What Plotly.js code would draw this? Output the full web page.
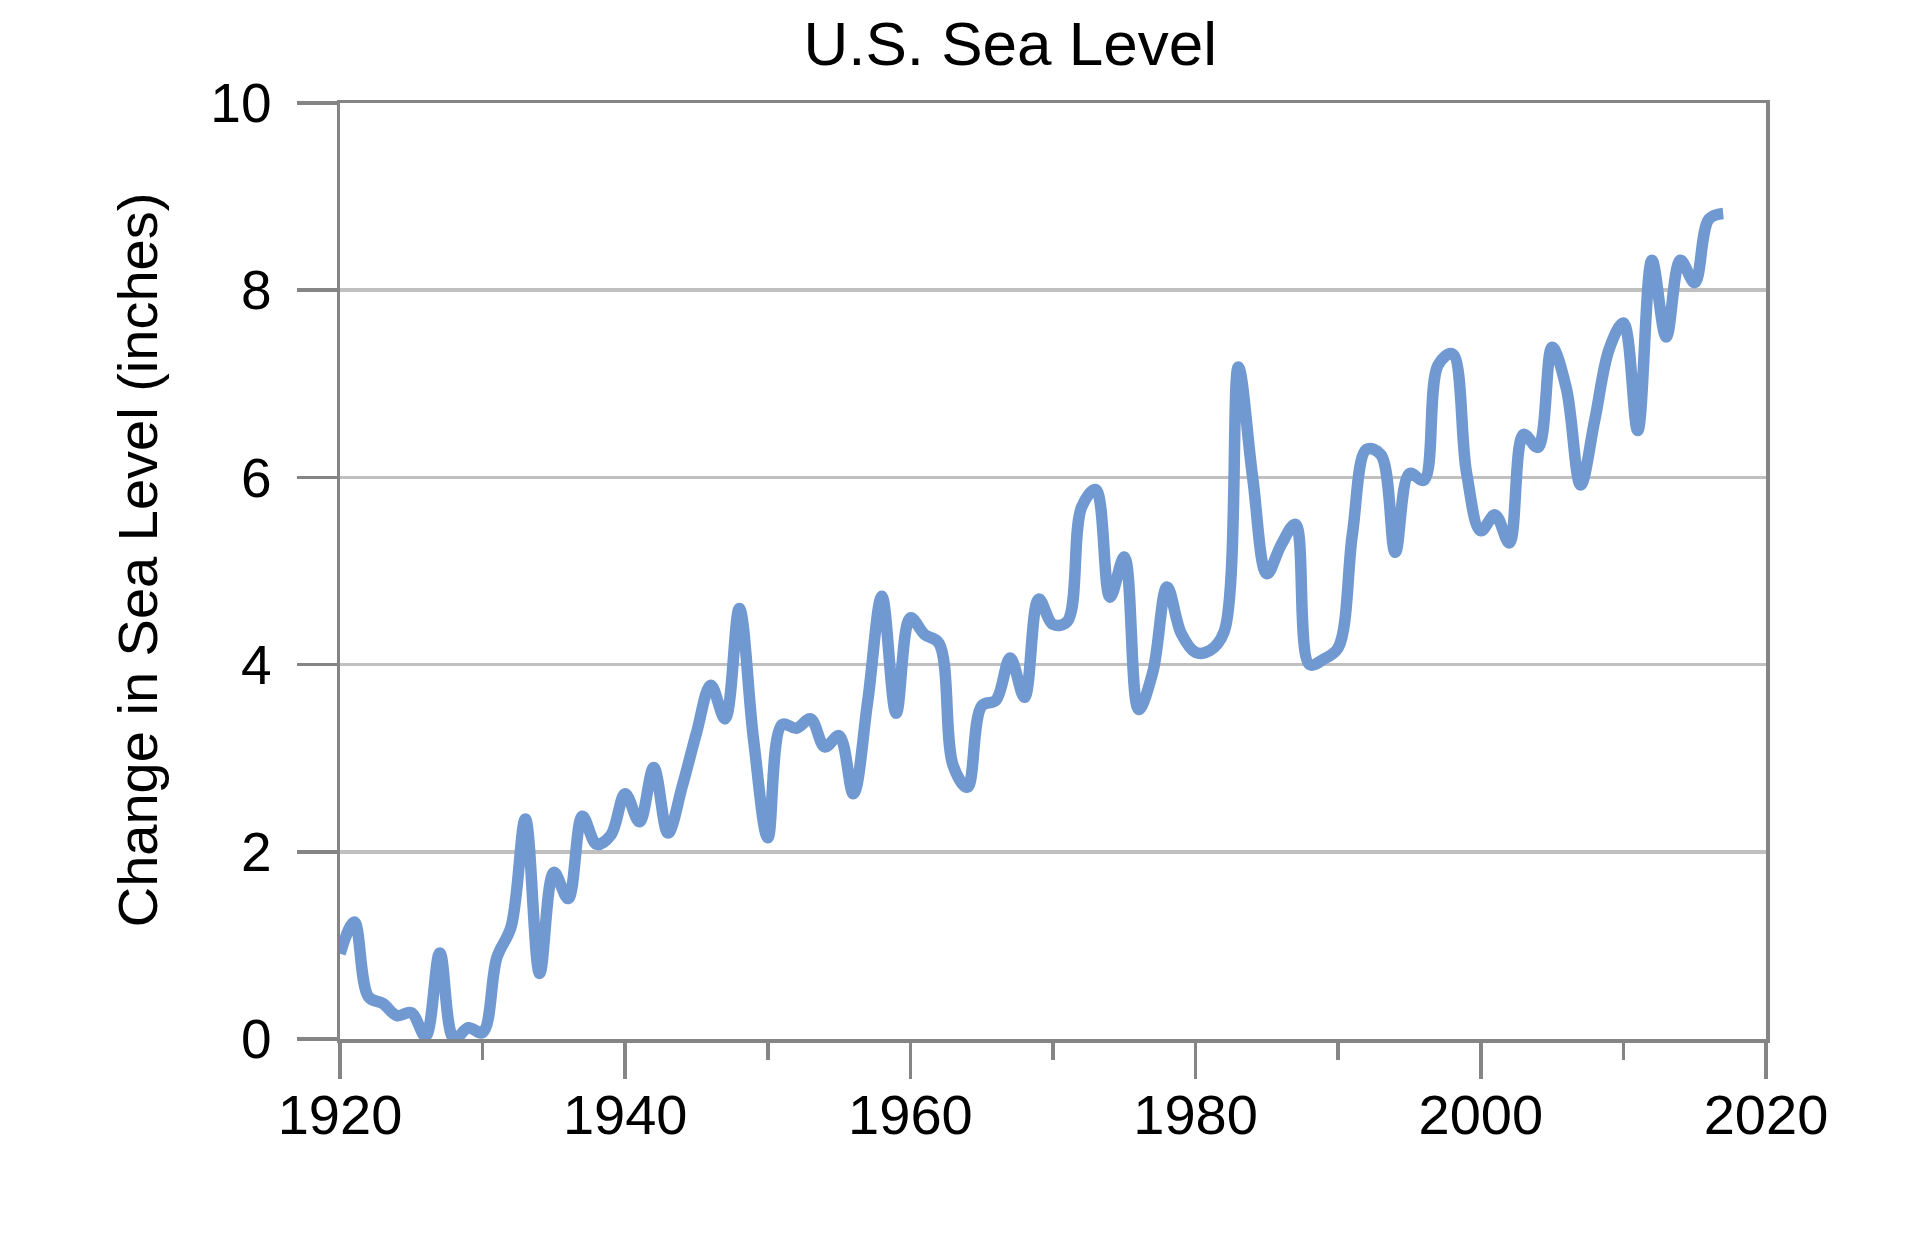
<!DOCTYPE html>
<html>
<head>
<meta charset="utf-8">
<script src="https://cdn.plot.ly/plotly-3.0.1.min.js"></script>
<style>
  html, body { margin: 0; padding: 0; background: #ffffff; }
  #chart { width: 1906px; height: 1246px; }
</style>
</head>
<body>
<div id="chart"></div>
<script>
// Years of the record
const years = [
  1920, 1921, 1922, 1923, 1924, 1925, 1926, 1927, 1928, 1929,
  1930, 1931, 1932, 1933, 1934, 1935, 1936, 1937, 1938, 1939,
  1940, 1941, 1942, 1943, 1944, 1945, 1946, 1947, 1948, 1949,
  1950, 1951, 1952, 1953, 1954, 1955, 1956, 1957, 1958, 1959,
  1960, 1961, 1962, 1963, 1964, 1965, 1966, 1967, 1968, 1969,
  1970, 1971, 1972, 1973, 1974, 1975, 1976, 1977, 1978, 1979,
  1980, 1981, 1982, 1983, 1984, 1985, 1986, 1987, 1988, 1989,
  1990, 1991, 1992, 1993, 1994, 1995, 1996, 1997, 1998, 1999,
  2000, 2001, 2002, 2003, 2004, 2005, 2006, 2007, 2008, 2009,
  2010, 2011, 2012, 2013, 2014, 2015, 2016, 2017
];

// Change in sea level (inches)
const seaLevel = [
  0.91, 1.25, 0.45, 0.38, 0.25, 0.28, 0.03, 0.92, 0.00, 0.12,
  0.07, 0.87, 1.20, 2.35, 0.70, 1.78, 1.50, 2.38, 2.08, 2.18,
  2.62, 2.32, 2.90, 2.20, 2.70, 3.27, 3.78, 3.42, 4.60, 3.20,
  2.15, 3.36, 3.32, 3.42, 3.12, 3.24, 2.62, 3.60, 4.73, 3.48,
  4.50, 4.32, 4.23, 2.92, 2.69, 3.56, 3.62, 4.07, 3.65, 4.70,
  4.43, 4.46, 5.68, 5.87, 4.72, 5.15, 3.52, 3.92, 4.83, 4.33,
  4.13, 4.15, 4.35, 7.18, 6.00, 4.97, 5.28, 5.50, 4.00, 4.06,
  4.18, 5.40, 6.30, 6.24, 5.20, 6.04, 5.97, 7.20, 7.32, 6.05,
  5.43, 5.60, 5.30, 6.46, 6.32, 7.39, 6.95, 5.92, 6.62, 7.37,
  7.65, 6.50, 8.32, 7.50, 8.32, 8.08, 8.76, 8.82
];

const chartTitle = "U.S. Sea Level";
const yTitle = "Change in Sea Level (inches)";
const xTickVals = [1920, 1940, 1960, 1980, 2000, 2020];
const yTickVals = [0, 2, 4, 6, 8, 10];

const FONT = "Liberation Sans, Arial, Helvetica, sans-serif";
const AXIS_GRAY = "#858585";

const trace = {
  x: years,
  y: seaLevel,
  type: "scatter",
  mode: "lines",
  line: { color: "rgb(113,153,209)", width: 11.5, shape: "spline", smoothing: 1 },
  hoverinfo: "x+y"
};

const layout = {
  width: 1906,
  height: 1246,
  paper_bgcolor: "#ffffff",
  plot_bgcolor: "#ffffff",
  showlegend: false,
  margin: { l: 340, r: 140, t: 103, b: 207 },
  font: { family: FONT, color: "#000000", size: 55 },
  title: {
    text: chartTitle,
    font: { family: FONT, size: 62, color: "#000000" },
    xref: "container", x: 0.53, xanchor: "center",
    yref: "container", y: 0.965, yanchor: "middle"
  },
  xaxis: {
    range: [1920, 2020],
    tickmode: "array",
    tickvals: xTickVals,
    ticktext: xTickVals.map(String),
    ticks: "outside",
    ticklen: 36,
    tickwidth: 3.5,
    tickcolor: AXIS_GRAY,
    minor: { dtick: 10, tick0: 1920, ticks: "outside", ticklen: 17, tickwidth: 3.5, tickcolor: AXIS_GRAY, showgrid: false },
    showline: true,
    linecolor: AXIS_GRAY,
    linewidth: 3.5,
    mirror: true,
    showgrid: false,
    zeroline: false,
    tickfont: { family: FONT, size: 56, color: "#000000" },
    ticklabelstandoff: -12
  },
  yaxis: {
    range: [0, 10],
    tickmode: "array",
    tickvals: yTickVals,
    ticktext: yTickVals.map(String),
    ticks: "outside",
    ticklen: 40,
    tickwidth: 3.5,
    tickcolor: AXIS_GRAY,
    showline: true,
    linecolor: AXIS_GRAY,
    linewidth: 3.5,
    mirror: true,
    showgrid: true,
    gridcolor: "#c0c0c0",
    gridwidth: 3.5,
    zeroline: false,
    tickfont: { family: FONT, size: 55, color: "#000000" },
    ticklabelstandoff: 14
  },
  annotations: [{
    text: yTitle,
    xref: "paper", yref: "paper",
    x: -0.142, y: 0.512,
    xanchor: "center", yanchor: "middle",
    textangle: -90,
    showarrow: false,
    font: { family: FONT, size: 56, color: "#000000" }
  }]
};

Plotly.newPlot("chart", [trace], layout, { staticPlot: true, displayModeBar: false });
</script>
</body>
</html>
